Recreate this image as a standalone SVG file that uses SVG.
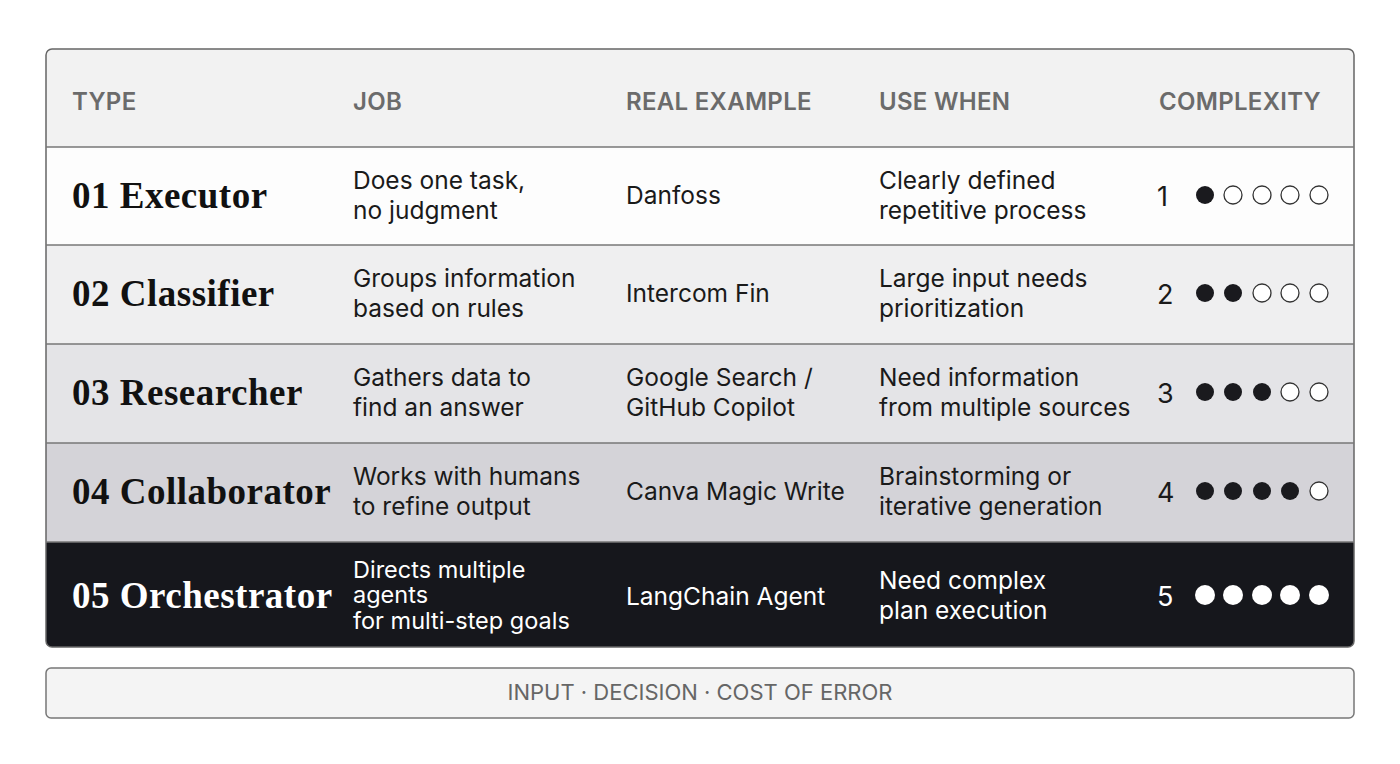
<svg xmlns="http://www.w3.org/2000/svg" width="1400" height="764" viewBox="0 0 1400 764">
<style>
.h{font-family:"Inter","Liberation Sans",sans-serif;font-size:24px;font-weight:600;fill:#6b6b6b;letter-spacing:0.3px}
.t{font-family:"Liberation Serif",serif;font-size:37px;font-weight:bold;fill:#111;letter-spacing:0.5px}
.c{font-family:"Inter","Liberation Sans",sans-serif;font-size:24.5px;fill:#1a1a1a}
.w .t,.w .c{fill:#fff}
.f{fill:#1a1a1e}
.o{fill:#fff;stroke:#333;stroke-width:1.3}
.l{stroke:#777;stroke-width:1.5}
</style>
<rect width="1400" height="764" fill="#fff"/>
<defs><clipPath id="cp"><rect x="46" y="49" width="1308" height="598" rx="6"/></clipPath></defs>
<g clip-path="url(#cp)">
<rect x="46" y="49" width="1308" height="98" fill="#f2f2f2"/>
<rect x="46" y="147" width="1308" height="98" fill="#fdfdfd"/>
<rect x="46" y="245" width="1308" height="99" fill="#efeff0"/>
<rect x="46" y="344" width="1308" height="99" fill="#e4e4e7"/>
<rect x="46" y="443" width="1308" height="99" fill="#d4d3d8"/>
<rect x="46" y="542" width="1308" height="105" fill="#16171c"/>
</g>
<rect x="46" y="49" width="1308" height="598" rx="6" fill="none" stroke="#666" stroke-width="1.5"/>
<g id="lines"><line class="l" x1="46" y1="147" x2="1354" y2="147"/><line class="l" x1="46" y1="245" x2="1354" y2="245"/><line class="l" x1="46" y1="344" x2="1354" y2="344"/><line class="l" x1="46" y1="443" x2="1354" y2="443"/><line class="l" x1="46" y1="542" x2="1354" y2="542"/></g>
<g id="header">
<text class="h" x="72" y="110">TYPE</text><text class="h" x="353" y="110">JOB</text><text class="h" x="626" y="110">REAL EXAMPLE</text><text class="h" x="879" y="110">USE WHEN</text><text class="h" x="1159" y="110">COMPLEXITY</text>
</g>
<g id="row1">
<text class="t" x="72" y="208">01  Executor</text>
<text class="c" x="353" y="189">Does one task,</text><text class="c" x="353" y="219">no judgment</text>
<text class="c" x="626" y="204">Danfoss</text>
<text class="c" x="879" y="189">Clearly defined</text><text class="c" x="879" y="219">repetitive process</text>
<text class="c" x="1157" y="206" style="font-size:27px">1</text>
<circle class="f" cx="1205" cy="195" r="9"/><circle class="o" cx="1233" cy="195" r="9"/><circle class="o" cx="1262" cy="195" r="9"/><circle class="o" cx="1290" cy="195" r="9"/><circle class="o" cx="1319" cy="195" r="9"/>
</g>
<g id="row2">
<text class="t" x="72" y="306">02 Classifier</text>
<text class="c" x="353" y="287">Groups information</text><text class="c" x="353" y="317">based on rules</text>
<text class="c" x="626" y="302">Intercom Fin</text>
<text class="c" x="879" y="287">Large input needs</text><text class="c" x="879" y="317">prioritization</text>
<text class="c" x="1157" y="304" style="font-size:27px">2</text>
<circle class="f" cx="1205" cy="293" r="9"/><circle class="f" cx="1233" cy="293" r="9"/><circle class="o" cx="1262" cy="293" r="9"/><circle class="o" cx="1290" cy="293" r="9"/><circle class="o" cx="1319" cy="293" r="9"/>
</g>
<g id="row3">
<text class="t" x="72" y="405">03 Researcher</text>
<text class="c" x="353" y="386">Gathers data to</text><text class="c" x="353" y="416">find an answer</text>
<text class="c" x="626" y="386">Google Search /</text><text class="c" x="626" y="416">GitHub Copilot</text>
<text class="c" x="879" y="386">Need information</text><text class="c" x="879" y="416">from multiple sources</text>
<text class="c" x="1157" y="403" style="font-size:27px">3</text>
<circle class="f" cx="1205" cy="392" r="9"/><circle class="f" cx="1233" cy="392" r="9"/><circle class="f" cx="1262" cy="392" r="9"/><circle class="o" cx="1290" cy="392" r="9"/><circle class="o" cx="1319" cy="392" r="9"/>
</g>
<g id="row4">
<text class="t" x="72" y="504">04 Collaborator</text>
<text class="c" x="353" y="485">Works with humans</text><text class="c" x="353" y="515">to refine output</text>
<text class="c" x="626" y="500">Canva Magic Write</text>
<text class="c" x="879" y="485">Brainstorming or</text><text class="c" x="879" y="515">iterative generation</text>
<text class="c" x="1157" y="502" style="font-size:27px">4</text>
<circle class="f" cx="1205" cy="491" r="9"/><circle class="f" cx="1233" cy="491" r="9"/><circle class="f" cx="1262" cy="491" r="9"/><circle class="f" cx="1290" cy="491" r="9"/><circle class="o" cx="1319" cy="491" r="9"/>
</g>
<g id="row5" class="w">
<text class="t" x="72" y="608">05 Orchestrator</text>
<text class="c" x="353" y="578" style="font-size:23.5px">Directs multiple</text><text class="c" x="353" y="603" style="font-size:23.5px">agents</text><text class="c" x="353" y="629" style="font-size:23.5px">for multi-step goals</text>
<text class="c" x="626" y="605">LangChain Agent</text>
<text class="c" x="879" y="589">Need complex</text><text class="c" x="879" y="619">plan execution</text>
<text class="c" x="1157" y="606" style="font-size:27px">5</text>
<circle fill="#fff" cx="1205" cy="595" r="10"/><circle fill="#fff" cx="1233" cy="595" r="10"/><circle fill="#fff" cx="1262" cy="595" r="10"/><circle fill="#fff" cx="1290" cy="595" r="10"/><circle fill="#fff" cx="1319" cy="595" r="10"/>
</g>
<g id="footer">
<rect x="46" y="668" width="1308" height="50" rx="5" fill="#f4f4f4" stroke="#777" stroke-width="1.5"/>
<text x="700" y="700" text-anchor="middle" style="font-family:Inter,'Liberation Sans',sans-serif;font-size:22px;fill:#666">INPUT · DECISION · COST OF ERROR</text>
</g>
</svg>
